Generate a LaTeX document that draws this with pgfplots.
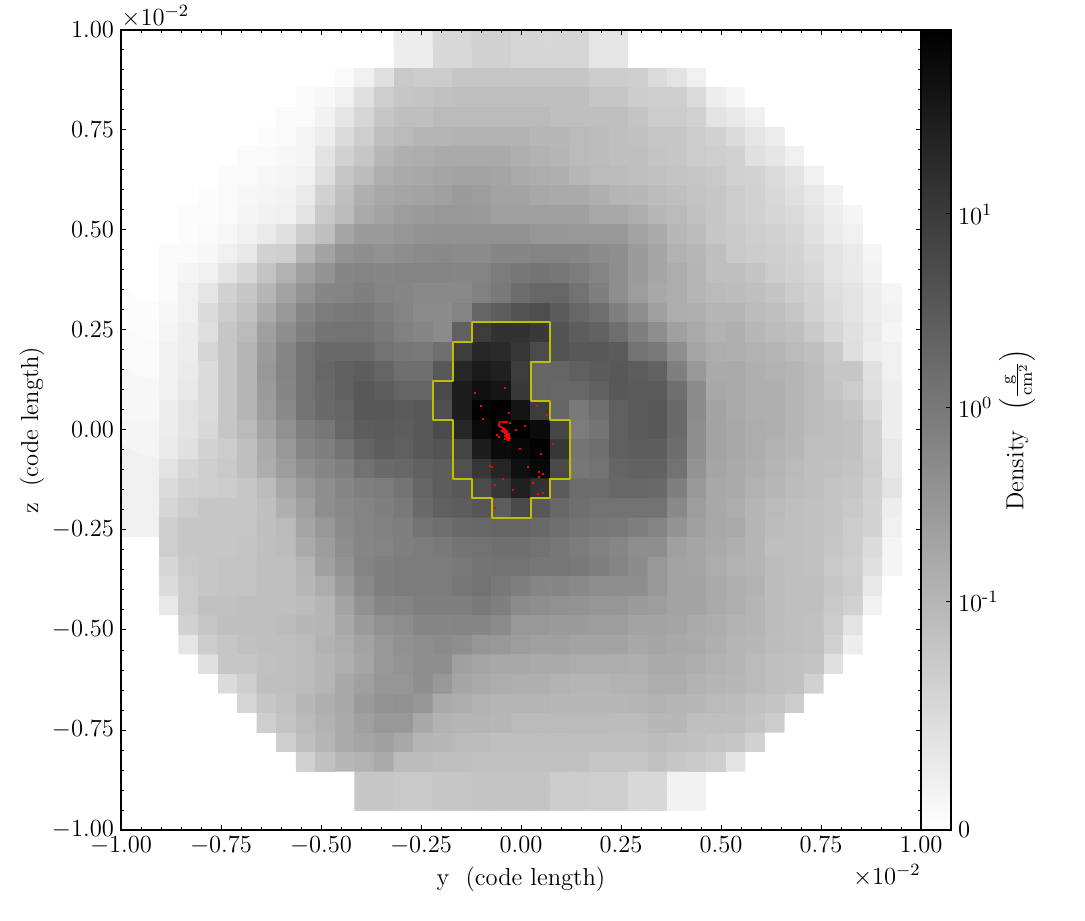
\RequirePackage{fix-cm}
\documentclass[border=0pt]{standalone}
\usepackage{pgfplots}
\pgfplotsset{compat=1.18}
\pgfplotsset{colorbar shift/.style={xshift=0pt}}
\newcommand\fs{\fontsize{12.3}{14}\selectfont}
\begin{document}
\begin{tikzpicture}
\path[use as bounding box] (-60.5pt,-45pt) rectangle (482pt,415pt);
\begin{axis}[
  at={(0pt,0pt)},anchor=south west,
  scale only axis,width=400pt,height=400pt,
  xmin=-1,xmax=1,ymin=-1,ymax=1,
  axis on top,
  colormap={bw}{gray(0cm)=(1); gray(1cm)=(0)},
  point meta min=0,point meta max=100,
  xtick={-1,-0.75,...,1},ytick={-1,-0.75,...,1},
  minor x tick num=4,minor y tick num=4,
  tick align=inside,
  major tick length=2.5pt,minor tick length=1.5pt,
  tick style={black,line width=0.5pt},
  axis line style={line width=0.75pt},
  scaled ticks=false,
  /pgf/number format/.cd,fixed,fixed zerofill,precision=2,/pgfplots/.cd,
  tick label style={font=\fs},
  label style={font=\fs},
  xlabel={$\mathrm{y\ \ (code\ length)}$},
  ylabel={$\mathrm{z\ \ (code\ length)}$},
  xlabel style={yshift=1pt},
  ylabel style={yshift=-3pt},
  colorbar,
  colorbar style={
    at={(parent axis.north east)},anchor=north west,
    width=15pt,
    ytick={0,28.6,52.8,77},
    yticklabels={$0$,$10^{\mathchar"702D 1}$,$10^{0}$,$10^{1}$},
    tick align=inside,
    ytick pos=right,
    yticklabel pos=right,
    major tick length=2.5pt,
    minor tick num=0,
    tick style={black,line width=0.5pt},
    axis line style={line width=0.75pt},
    tick label style={font=\fs},
    label style={font=\fs},
    ylabel={$\mathrm{Density}\ \ \left(\frac{\mathrm{g}}{\mathrm{cm}^{2}}\right)$},
    ylabel style={font=\fs,yshift=6.5pt},
  },
]
\addplot[matrix plot*,mesh/cols=41,mesh/ordering=x varies,point meta=\thisrowno{0}]
 table[row sep=\\,header=false,
  x expr={(mod(\coordindex,41)-20)*0.048875},
  y expr={(20-floor(\coordindex/41))*0.048875}] {
0\\0\\0\\0\\0\\0\\0\\0\\0\\0\\0\\0\\0\\0\\7\\7\\15\\15\\18\\18\\16\\16\\16\\16\\10\\10\\0\\0\\0\\0\\0\\0\\0\\0\\0\\0\\0\\0\\0\\0\\0\\
0\\0\\0\\0\\0\\0\\0\\0\\0\\0\\0\\0\\0\\0\\7\\7\\15\\15\\18\\18\\16\\16\\16\\16\\10\\10\\0\\0\\0\\0\\0\\0\\0\\0\\0\\0\\0\\0\\0\\0\\0\\
0\\0\\0\\0\\0\\0\\0\\0\\0\\0\\0\\2\\6\\12\\21\\20\\20\\22\\22\\22\\22\\22\\22\\22\\20\\20\\19\\14\\11\\6\\0\\0\\0\\0\\0\\0\\0\\0\\0\\0\\0\\
0\\0\\0\\0\\0\\0\\0\\0\\0\\2\\3\\6\\12\\19\\22\\23\\24\\25\\25\\25\\25\\25\\25\\25\\22\\22\\20\\19\\19\\14\\7\\4\\0\\0\\0\\0\\0\\0\\0\\0\\0\\
0\\0\\0\\0\\0\\0\\0\\0\\2\\2\\5\\10\\16\\22\\25\\25\\27\\27\\27\\27\\27\\27\\25\\25\\25\\25\\23\\20\\20\\18\\11\\9\\6\\0\\0\\0\\0\\0\\0\\0\\0\\
0\\0\\0\\0\\0\\0\\0\\1\\2\\4\\7\\14\\19\\25\\27\\29\\29\\30\\30\\30\\30\\28\\28\\27\\26\\25\\24\\22\\22\\20\\18\\14\\10\\7\\0\\0\\0\\0\\0\\0\\0\\
0\\0\\0\\0\\0\\0\\2\\2\\3\\4\\11\\18\\22\\28\\31\\32\\33\\33\\33\\33\\31\\30\\29\\27\\26\\25\\25\\23\\22\\20\\19\\18\\12\\10\\6\\0\\0\\0\\0\\0\\0\\
0\\0\\0\\0\\0\\2\\2\\3\\4\\6\\13\\22\\26\\31\\33\\34\\35\\36\\36\\35\\33\\32\\31\\28\\27\\26\\25\\24\\23\\22\\21\\18\\17\\14\\11\\6\\0\\0\\0\\0\\0\\
0\\0\\0\\0\\1\\2\\3\\4\\5\\8\\18\\25\\31\\34\\35\\36\\37\\39\\38\\36\\36\\34\\33\\33\\31\\29\\28\\26\\25\\23\\22\\20\\18\\15\\12\\9\\5\\0\\0\\0\\0\\
0\\0\\0\\1\\1\\2\\4\\5\\6\\11\\21\\26\\33\\36\\38\\39\\40\\40\\39\\37\\37\\37\\37\\37\\34\\34\\32\\28\\27\\24\\22\\20\\18\\16\\14\\11\\7\\4\\0\\0\\0\\
0\\0\\0\\1\\2\\3\\6\\8\\12\\20\\25\\35\\39\\39\\41\\42\\43\\43\\43\\43\\43\\41\\41\\40\\40\\40\\36\\33\\28\\26\\22\\21\\19\\18\\16\\12\\8\\6\\0\\0\\0\\
0\\0\\2\\2\\3\\6\\9\\18\\19\\29\\36\\42\\44\\43\\44\\45\\46\\45\\45\\47\\47\\48\\48\\47\\45\\44\\39\\35\\30\\28\\25\\21\\20\\19\\17\\14\\11\\8\\4\\0\\0\\
0\\0\\2\\4\\6\\11\\16\\23\\30\\37\\42\\47\\48\\47\\48\\48\\48\\47\\48\\51\\53\\54\\53\\51\\48\\44\\39\\35\\32\\29\\25\\25\\23\\20\\18\\15\\11\\9\\5\\0\\0\\
0\\0\\2\\6\\10\\18\\22\\29\\36\\42\\47\\48\\50\\48\\47\\46\\46\\46\\49\\52\\57\\59\\59\\55\\50\\44\\38\\34\\32\\29\\27\\26\\25\\23\\20\\17\\13\\11\\7\\4\\0\\
1\\1\\3\\6\\14\\20\\24\\33\\40\\47\\51\\52\\53\\50\\48\\45\\45\\48\\60\\63\\67\\69\\64\\59\\56\\50\\44\\37\\32\\31\\29\\29\\26\\25\\22\\18\\14\\11\\7\\5\\0\\
1\\1\\4\\7\\13\\22\\27\\37\\44\\50\\54\\55\\55\\52\\49\\47\\45\\62\\76\\80\\80\\77\\67\\63\\61\\56\\50\\44\\37\\33\\30\\31\\28\\26\\25\\21\\16\\12\\8\\4\\0\\
2\\2\\5\\7\\16\\22\\29\\39\\47\\55\\58\\58\\58\\55\\53\\52\\56\\76\\84\\83\\78\\70\\67\\65\\65\\64\\55\\52\\44\\35\\32\\31\\30\\29\\27\\25\\21\\13\\7\\6\\0\\
2\\2\\5\\8\\14\\22\\29\\40\\48\\55\\59\\62\\63\\60\\56\\56\\65\\84\\89\\87\\76\\60\\60\\62\\64\\65\\63\\61\\50\\40\\33\\33\\31\\30\\29\\26\\22\\22\\12\\6\\0\\
3\\3\\5\\9\\14\\22\\29\\39\\47\\55\\58\\62\\65\\63\\60\\60\\71\\88\\93\\91\\77\\60\\59\\59\\62\\65\\64\\64\\56\\45\\34\\33\\31\\31\\29\\26\\23\\20\\13\\7\\0\\
3\\3\\7\\11\\14\\22\\29\\38\\46\\54\\58\\60\\65\\65\\64\\65\\69\\88\\98\\99\\92\\76\\60\\52\\56\\62\\64\\65\\58\\45\\36\\33\\31\\31\\29\\26\\25\\23\\15\\7\\0\\
4\\4\\7\\11\\15\\22\\27\\36\\43\\50\\53\\59\\63\\64\\63\\65\\70\\84\\95\\100\\100\\95\\72\\51\\54\\62\\64\\65\\58\\44\\36\\34\\32\\31\\29\\26\\25\\24\\18\\7\\0\\
4\\4\\8\\12\\17\\20\\25\\33\\40\\47\\50\\55\\60\\63\\62\\65\\67\\73\\88\\95\\96\\98\\78\\54\\56\\62\\63\\63\\57\\44\\36\\34\\32\\30\\28\\25\\25\\24\\18\\9\\0\\
6\\6\\11\\16\\19\\21\\25\\32\\38\\44\\47\\50\\55\\58\\59\\62\\63\\68\\78\\85\\93\\96\\71\\53\\55\\60\\61\\61\\55\\42\\35\\33\\31\\29\\27\\25\\24\\23\\19\\9\\0\\
6\\6\\14\\18\\19\\20\\22\\26\\34\\40\\44\\47\\50\\51\\54\\60\\63\\65\\70\\78\\87\\80\\64\\57\\57\\59\\59\\58\\50\\40\\34\\33\\30\\28\\26\\25\\23\\22\\18\\11\\0\\
6\\6\\16\\20\\22\\22\\22\\25\\31\\37\\44\\46\\48\\50\\52\\58\\62\\63\\66\\63\\71\\65\\59\\56\\55\\55\\55\\55\\46\\38\\34\\32\\29\\27\\25\\24\\23\\21\\17\\7\\0\\
6\\6\\19\\22\\22\\22\\22\\25\\27\\35\\40\\45\\48\\49\\50\\54\\56\\58\\59\\60\\60\\58\\56\\54\\53\\52\\50\\48\\42\\37\\34\\33\\29\\26\\25\\24\\23\\20\\17\\6\\0\\
0\\0\\19\\22\\22\\22\\23\\25\\26\\33\\38\\44\\47\\48\\50\\51\\52\\54\\55\\56\\56\\55\\53\\51\\49\\47\\44\\44\\37\\35\\33\\31\\29\\25\\25\\24\\22\\20\\14\\4\\0\\
0\\0\\16\\21\\22\\23\\23\\25\\25\\29\\37\\42\\48\\50\\51\\51\\51\\52\\54\\55\\55\\53\\53\\52\\50\\48\\45\\40\\36\\35\\32\\30\\29\\26\\25\\24\\21\\19\\12\\4\\0\\
0\\0\\14\\20\\22\\23\\23\\25\\25\\28\\32\\39\\46\\50\\51\\51\\51\\53\\55\\52\\50\\47\\47\\46\\44\\44\\44\\40\\36\\36\\33\\31\\30\\26\\25\\25\\22\\20\\9\\0\\0\\
0\\0\\9\\20\\24\\24\\25\\25\\25\\26\\29\\36\\43\\47\\48\\50\\50\\50\\52\\50\\45\\44\\43\\42\\41\\41\\39\\38\\36\\36\\33\\31\\29\\26\\25\\25\\21\\18\\5\\0\\0\\
0\\0\\0\\18\\22\\25\\25\\25\\26\\28\\29\\34\\39\\43\\44\\47\\47\\48\\47\\45\\40\\40\\39\\39\\38\\38\\36\\36\\35\\33\\32\\30\\29\\26\\25\\24\\20\\11\\0\\0\\0\\
0\\0\\0\\10\\20\\22\\24\\25\\25\\27\\30\\32\\36\\40\\43\\44\\45\\44\\41\\40\\38\\37\\37\\36\\36\\36\\34\\35\\34\\33\\31\\29\\28\\26\\25\\24\\18\\7\\0\\0\\0\\
0\\0\\0\\0\\12\\22\\22\\24\\25\\27\\29\\31\\35\\40\\42\\44\\44\\37\\35\\34\\34\\33\\33\\32\\32\\32\\31\\33\\33\\32\\30\\29\\27\\25\\24\\23\\12\\0\\0\\0\\0\\
0\\0\\0\\0\\0\\14\\19\\25\\25\\27\\29\\34\\37\\41\\41\\44\\40\\35\\33\\32\\31\\31\\30\\29\\29\\30\\30\\32\\32\\30\\29\\28\\27\\25\\24\\18\\0\\0\\0\\0\\0\\
0\\0\\0\\0\\0\\0\\16\\22\\24\\28\\31\\34\\39\\42\\43\\41\\33\\32\\30\\29\\29\\29\\28\\28\\28\\28\\29\\30\\29\\28\\27\\26\\24\\23\\20\\0\\0\\0\\0\\0\\0\\
0\\0\\0\\0\\0\\0\\0\\19\\23\\27\\30\\33\\37\\40\\40\\34\\30\\29\\29\\28\\27\\27\\27\\27\\27\\26\\26\\28\\28\\25\\25\\25\\23\\20\\0\\0\\0\\0\\0\\0\\0\\
0\\0\\0\\0\\0\\0\\0\\0\\19\\25\\29\\33\\35\\37\\34\\29\\28\\27\\26\\25\\25\\25\\25\\25\\25\\25\\25\\26\\25\\24\\23\\22\\18\\0\\0\\0\\0\\0\\0\\0\\0\\
0\\0\\0\\0\\0\\0\\0\\0\\0\\18\\24\\28\\30\\33\\26\\26\\25\\25\\24\\24\\24\\24\\24\\24\\22\\22\\22\\24\\22\\21\\19\\11\\0\\0\\0\\0\\0\\0\\0\\0\\0\\
0\\0\\0\\0\\0\\0\\0\\0\\0\\0\\0\\0\\22\\22\\21\\21\\22\\22\\23\\23\\23\\23\\20\\20\\19\\19\\15\\15\\5\\5\\0\\0\\0\\0\\0\\0\\0\\0\\0\\0\\0\\
0\\0\\0\\0\\0\\0\\0\\0\\0\\0\\0\\0\\22\\22\\21\\21\\22\\22\\23\\23\\23\\23\\20\\20\\19\\19\\15\\15\\5\\5\\0\\0\\0\\0\\0\\0\\0\\0\\0\\0\\0\\
0\\0\\0\\0\\0\\0\\0\\0\\0\\0\\0\\0\\0\\0\\0\\0\\0\\0\\0\\0\\0\\0\\0\\0\\0\\0\\0\\0\\0\\0\\0\\0\\0\\0\\0\\0\\0\\0\\0\\0\\0\\
};
\addplot[color={rgb,255:red,192;green,190;blue,0},line width=1pt,line join=round] coordinates {
(-0.1222,0.2688)(0.0733,0.2688)(0.0733,0.1711)(0.0244,0.1711)(0.0244,0.0733)(0.0733,0.0733)(0.0733,0.0244)(0.1222,0.0244)(0.1222,-0.1222)(0.0733,-0.1222)(0.0733,-0.1711)(0.0244,-0.1711)(0.0244,-0.2199)(-0.0733,-0.2199)(-0.0733,-0.1711)(-0.1222,-0.1711)(-0.1222,-0.1222)(-0.1711,-0.1222)(-0.1711,0.0244)(-0.2199,0.0244)(-0.2199,0.1222)(-0.1711,0.1222)(-0.1711,0.2199)(-0.1222,0.2199)(-0.1222,0.2688)
};
\addplot[only marks,color=red,mark=square*,mark size=0.28pt,mark options={draw=red,fill=red,line width=0pt}] coordinates {
(-0.0405,0.104)(-0.1155,0.093)(-0.1005,0.061)(-0.0305,0.042)(-0.0945,0.027)(0.0405,0.06)(0.066,0.0375)(0.011,0.01)(-0.013,0)(-0.003,-0.047)(0.0805,-0.036)(0.049,-0.061)(-0.078,-0.089)(-0.072,-0.093)(0.017,-0.092)(0.046,-0.104)(0.054,-0.109)(0.044,-0.117)(-0.044,-0.123)(-0.0655,-0.138)(0.0305,-0.132)(-0.019,-0.149)(0.056,-0.157)(0.043,-0.161)(-0.0655,-0.196)
(-0.053,0.02)(-0.046,0.0208)(-0.0395,0.02)(-0.0345,0.02)(-0.056,0.015)(-0.028,0.0167)(-0.049,0.008)(-0.0545,0.01)(-0.044,0.004)(-0.041,0)(-0.038,-0.0033)(-0.0355,-0.0067)(-0.033,-0.01)(-0.0305,-0.0133)(-0.029,-0.018)(-0.0305,-0.0233)(-0.0345,-0.018)(-0.039,-0.015)(-0.042,-0.005)(-0.044,0)(-0.048,-0.0025)(-0.0595,-0.0117)(-0.0545,-0.0175)(-0.041,-0.0225)(-0.0375,-0.008)(-0.0345,-0.0125)(-0.0395,-0.0017)(-0.032,-0.017)
(-0.043,0.003)(-0.041,0.003)(-0.039,0.002)(-0.045,0)(-0.043,-0.002)(-0.041,-0.004)(-0.039,-0.006)(-0.037,-0.005)(-0.035,-0.003)(-0.04,-0.008)(-0.038,-0.01)(-0.036,-0.012)(-0.034,-0.008)(-0.032,-0.013)(-0.03,-0.009)(-0.036,-0.016)(-0.034,-0.015)(-0.032,-0.02)(-0.03,-0.016)(-0.028,-0.02)(-0.034,-0.021)(-0.032,-0.024)(-0.029,-0.025)
};
\end{axis}
\node[anchor=south west,inner sep=0pt,font=\fs] at (0pt,401pt) {$\times10^{-2}$};
\node[anchor=north east,inner sep=0pt,font=\fs] at (400pt,-17pt) {$\times10^{-2}$};
\end{tikzpicture}
\end{document}
